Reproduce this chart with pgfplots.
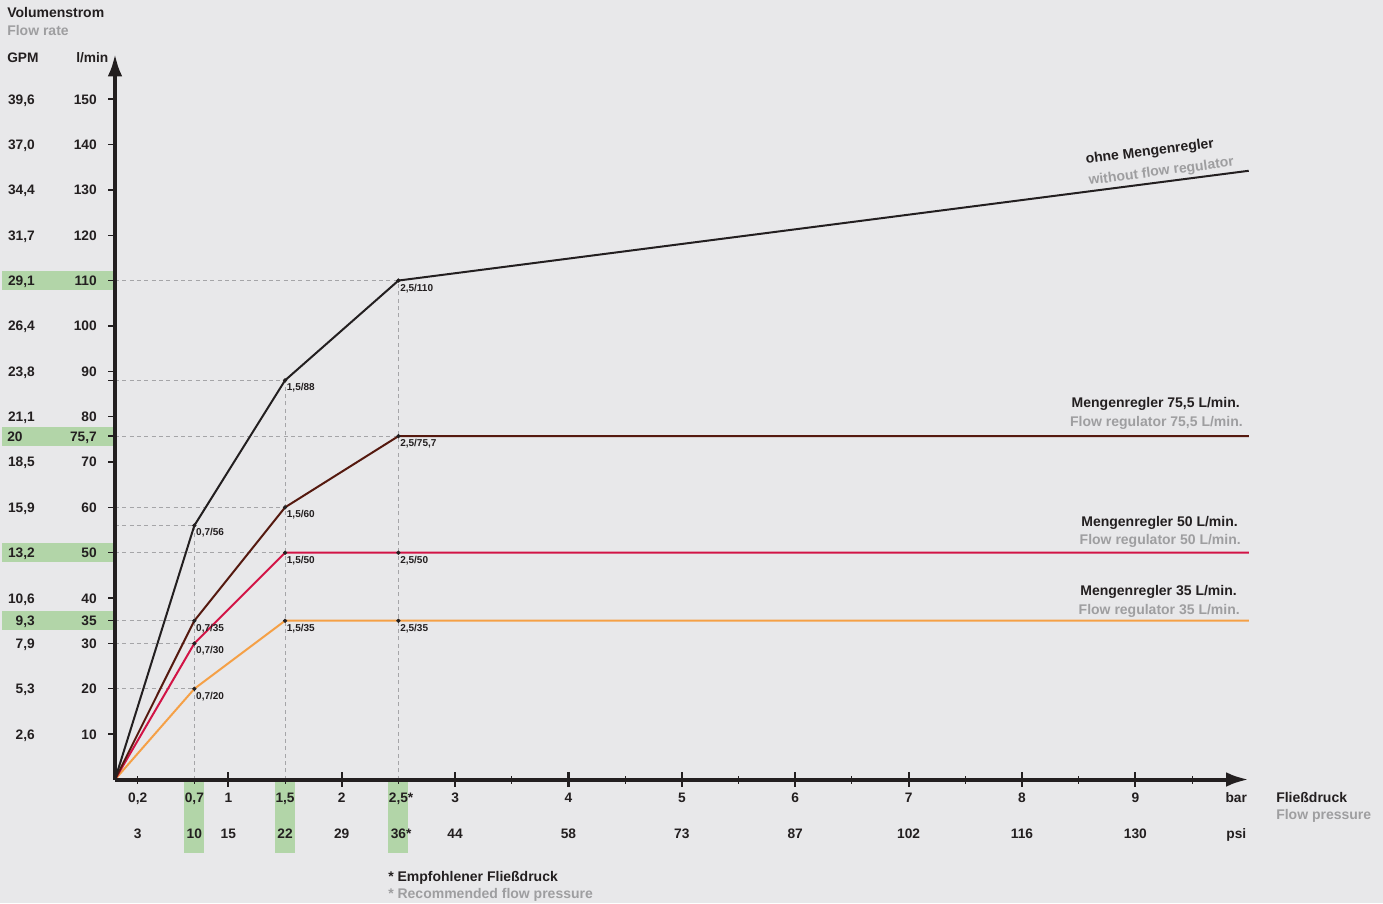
\documentclass[border=0pt]{standalone}
\usepackage{pgfplots}
\pgfplotsset{compat=1.18}
\usepackage{fontspec}
\setmainfont{Liberation Sans}
\usetikzlibrary{arrows.meta}
\definecolor{bg}{RGB}{232,232,234}
\definecolor{hl}{RGB}{178,213,168}
\definecolor{ink}{RGB}{35,31,32}
\definecolor{gr}{RGB}{158,158,160}
\definecolor{brn}{RGB}{85,25,15}
\definecolor{crm}{RGB}{210,20,70}
\definecolor{org}{RGB}{245,160,70}
\definecolor{dsh}{RGB}{165,165,168}
\newcommand{\lab}{\fontsize{10.3}{12}\selectfont\bfseries}
\newcommand{\txt}{\fontsize{10.5}{12}\selectfont\bfseries}
\newcommand{\sml}{\fontsize{7.5}{9}\selectfont\bfseries}
\begin{document}
\begin{tikzpicture}
\fill[bg] (0,0) rectangle (1037.25pt,677.25pt);
\begin{axis}[
  at={(86.25pt,92.625pt)}, anchor=south west,
  scale only axis, width=850.3pt, height=544.3pt,
  xmin=0, xmax=10, ymin=0, ymax=160,
  axis lines=left, axis on top, clip=false,
  axis line style={draw=ink, line width=3pt, -{Latex[length=17pt,width=11pt]}},
  major tick length=0pt, minor tick length=0pt, tick style={draw=none},
  xtick={0.2,0.7,1,1.5,2,2.5,3,4,5,6,7,8,9},
  xticklabels={{0,2},{0,7},1,{1,5},2,{2,5\rlap{*}},3,4,5,6,7,8,9},
  ytick={10,20,30,35,40,50,60,70,75.7,80,90,100,110,120,130,140,150},
  yticklabels={10,20,30,35,40,50,60,70,{75,7\hspace{-8.25pt}},80,90,100,110,120,130,140,150},
  tick label style={font=\lab, text=ink, inner sep=0pt},
  xticklabel style={anchor=base, yshift=-16.9pt},
  yticklabel style={anchor=base east, xshift=-13.5pt, yshift=-3.75pt},
]
% highlight boxes
\fill[hl] ([xshift=-84.75pt,yshift=-7.125pt]axis cs:0,110) rectangle ([xshift=-1.5pt,yshift=7.125pt]axis cs:0,110);
\fill[hl] ([xshift=-84.75pt,yshift=-7.125pt]axis cs:0,75.7) rectangle ([xshift=-1.5pt,yshift=7.125pt]axis cs:0,75.7);
\fill[hl] ([xshift=-84.75pt,yshift=-7.125pt]axis cs:0,50) rectangle ([xshift=-1.5pt,yshift=7.125pt]axis cs:0,50);
\fill[hl] ([xshift=-84.75pt,yshift=-7.125pt]axis cs:0,35) rectangle ([xshift=-1.5pt,yshift=7.125pt]axis cs:0,35);
\fill[hl] ([xshift=-7.5pt,yshift=-1.2pt]axis cs:0.7,0) rectangle ([xshift=7.5pt,yshift=-55.1pt]axis cs:0.7,0);
\fill[hl] ([xshift=-7.5pt,yshift=-1.2pt]axis cs:1.5,0) rectangle ([xshift=7.5pt,yshift=-55.1pt]axis cs:1.5,0);
\fill[hl] ([xshift=-7.5pt,yshift=-1.2pt]axis cs:2.5,0) rectangle ([xshift=7.5pt,yshift=-55.1pt]axis cs:2.5,0);
% tick marks
\pgfplotsinvokeforeach{10,20,30,35,40,50,60,70,75.7,80,88,90,100,110,120,130,140,150}{
  \draw[ink, line width=1pt] (axis cs:0,#1) -- ++(-5.5pt,0);
}
\pgfplotsinvokeforeach{1,2,3,4,5,6,7,8,9}{
  \draw[ink, line width=1.6pt] ([yshift=-5.6pt]axis cs:#1,0) -- ([yshift=5.6pt]axis cs:#1,0);
}
\pgfplotsinvokeforeach{0.2,0.7,1.5,2.5,3.5,4.5,5.5,6.5,7.5,8.5,9.5}{
  \draw[ink, line width=0.8pt] ([yshift=-3pt]axis cs:#1,0) -- ([yshift=3pt]axis cs:#1,0);
}
% dashed guides
\tikzset{guide/.style={dsh, line width=0.75pt, dash pattern=on 3pt off 2.5pt}}
\draw[guide] (axis cs:0,110) -- (axis cs:2.5,110);
\draw[guide] (axis cs:0,88) -- (axis cs:1.5,88);
\draw[guide] (axis cs:0,75.7) -- (axis cs:2.5,75.7);
\draw[guide] (axis cs:0,60) -- (axis cs:1.5,60);
\draw[guide] (axis cs:0,56) -- (axis cs:0.7,56);
\draw[guide] (axis cs:0,50) -- (axis cs:1.5,50);
\draw[guide] (axis cs:0,35) -- (axis cs:0.7,35);
\draw[guide] (axis cs:0,30) -- (axis cs:0.7,30);
\draw[guide] (axis cs:0,20) -- (axis cs:0.7,20);
\draw[guide] (axis cs:0.7,0) -- (axis cs:0.7,56);
\draw[guide] (axis cs:1.5,0) -- (axis cs:1.5,88);
\draw[guide] (axis cs:2.5,0) -- (axis cs:2.5,110);
% series
\addplot[org, line width=1.5pt] coordinates {(0,0) (0.7,20) (1.5,35) (2.5,35) (10,35)};
\addplot[crm, line width=1.5pt] coordinates {(0,0) (0.7,30) (1.5,50) (2.5,50) (10,50)};
\addplot[brn, line width=1.5pt] coordinates {(0,0) (0.7,35) (1.5,60) (2.5,75.7) (10,75.7)};
\addplot[ink, line width=1.5pt] coordinates {(0,0) (0.7,56) (1.5,88) (2.5,110) (10,134.2)};
% points with labels
\addplot[only marks, mark=*, mark size=1.4pt, ink,
  nodes near coords, point meta=explicit symbolic,
  nodes near coords style={font=\sml, text=ink, anchor=north west, inner sep=0pt, xshift=1.2pt, yshift=-2.2pt}]
  coordinates {
  (0.7,56) [0,7/56]
  (1.5,88) [1,5/88]
  (2.5,110) [2,5/110]
  (0.7,35) [0,7/35]
  (1.5,60) [1,5/60]
  (2.5,75.7) [2,5/75,7]
  (0.7,30) [0,7/30]
  (1.5,50) [1,5/50]
  (2.5,50) [2,5/50]
  (0.7,20) [0,7/20]
  (1.5,35) [1,5/35]
  (2.5,35) [2,5/35]
  };
% GPM column
\tikzset{gpm/.style={font=\lab, text=ink, inner sep=0pt, anchor=base east, xshift=-60pt, yshift=-3.75pt}}
\node[gpm] at (axis cs:0,150) {39,6};
\node[gpm] at (axis cs:0,140) {37,0};
\node[gpm] at (axis cs:0,130) {34,4};
\node[gpm] at (axis cs:0,120) {31,7};
\node[gpm] at (axis cs:0,110) {29,1};
\node[gpm] at (axis cs:0,100) {26,4};
\node[gpm] at (axis cs:0,90) {23,8};
\node[gpm] at (axis cs:0,80) {21,1};
\node[font=\lab, text=ink, inner sep=0pt, anchor=base west, xshift=-81pt, yshift=-3.75pt] at (axis cs:0,75.7) {20};
\node[gpm] at (axis cs:0,70) {18,5};
\node[gpm] at (axis cs:0,60) {15,9};
\node[gpm] at (axis cs:0,50) {13,2};
\node[gpm] at (axis cs:0,40) {10,6};
\node[gpm] at (axis cs:0,35) {9,3};
\node[gpm] at (axis cs:0,30) {7,9};
\node[gpm] at (axis cs:0,20) {5,3};
\node[gpm] at (axis cs:0,10) {2,6};
% psi row
\tikzset{psi/.style={font=\lab, text=ink, inner sep=0pt, anchor=base, yshift=-43.9pt}}
\node[psi] at (axis cs:0.2,0) {3};
\node[psi] at (axis cs:0.7,0) {10};
\node[psi] at (axis cs:1,0) {15};
\node[psi] at (axis cs:1.5,0) {22};
\node[psi] at (axis cs:2,0) {29};
\node[psi] at (axis cs:2.5,0) {36\rlap{*}};
\node[psi] at (axis cs:3,0) {44};
\node[psi] at (axis cs:4,0) {58};
\node[psi] at (axis cs:5,0) {73};
\node[psi] at (axis cs:6,0) {87};
\node[psi] at (axis cs:7,0) {102};
\node[psi] at (axis cs:8,0) {116};
\node[psi] at (axis cs:9,0) {130};
\node[psi] at (axis cs:9.89,0) {psi};
\node[font=\lab, text=ink, inner sep=0pt, anchor=base, yshift=-16.9pt] at (axis cs:9.89,0) {bar};
\end{axis}
\begin{scope}[x=0.75pt,y=0.75pt]
\node[font=\txt, text=ink, anchor=base west, inner sep=0pt] at (7,885) {Volumenstrom};
\node[font=\txt, text=gr, anchor=base west, inner sep=0pt] at (7,867) {Flow rate};
\node[font=\lab, text=ink, anchor=base west, inner sep=0pt] at (7,840) {GPM};
\node[font=\lab, text=ink, anchor=base west, inner sep=0pt] at (76,840) {l/min};
\node[font=\txt, text=ink, anchor=base west, inner sep=0pt, rotate=7.4] at (1086,739) {ohne Mengenregler};
\node[font=\txt, text=gr, anchor=base west, inner sep=0pt, rotate=7.4] at (1089,718) {without flow regulator};
\node[font=\txt, text=ink, anchor=base east, inner sep=0pt] at (1240,495) {Mengenregler 75,5 L/min.};
\node[font=\txt, text=gr, anchor=base east, inner sep=0pt] at (1243,476) {Flow regulator 75,5 L/min.};
\node[font=\txt, text=ink, anchor=base east, inner sep=0pt] at (1238,376) {Mengenregler 50 L/min.};
\node[font=\txt, text=gr, anchor=base east, inner sep=0pt] at (1241,358) {Flow regulator 50 L/min.};
\node[font=\txt, text=ink, anchor=base east, inner sep=0pt] at (1237,307) {Mengenregler 35 L/min.};
\node[font=\txt, text=gr, anchor=base east, inner sep=0pt] at (1240,288) {Flow regulator 35 L/min.};
\node[font=\txt, text=ink, anchor=base west, inner sep=0pt] at (1276,101) {Flie\ss druck};
\node[font=\txt, text=gr, anchor=base west, inner sep=0pt] at (1276,84) {Flow pressure};
\node[font=\txt, text=ink, anchor=base west, inner sep=0pt] at (388,22) {* Empfohlener Flie\ss druck};
\node[font=\txt, text=gr, anchor=base west, inner sep=0pt] at (388,5) {* Recommended flow pressure};
\end{scope}
\pgfresetboundingbox
\path[use as bounding box] (0,0) rectangle (1037.25pt,677.25pt);
\end{tikzpicture}
\end{document}
